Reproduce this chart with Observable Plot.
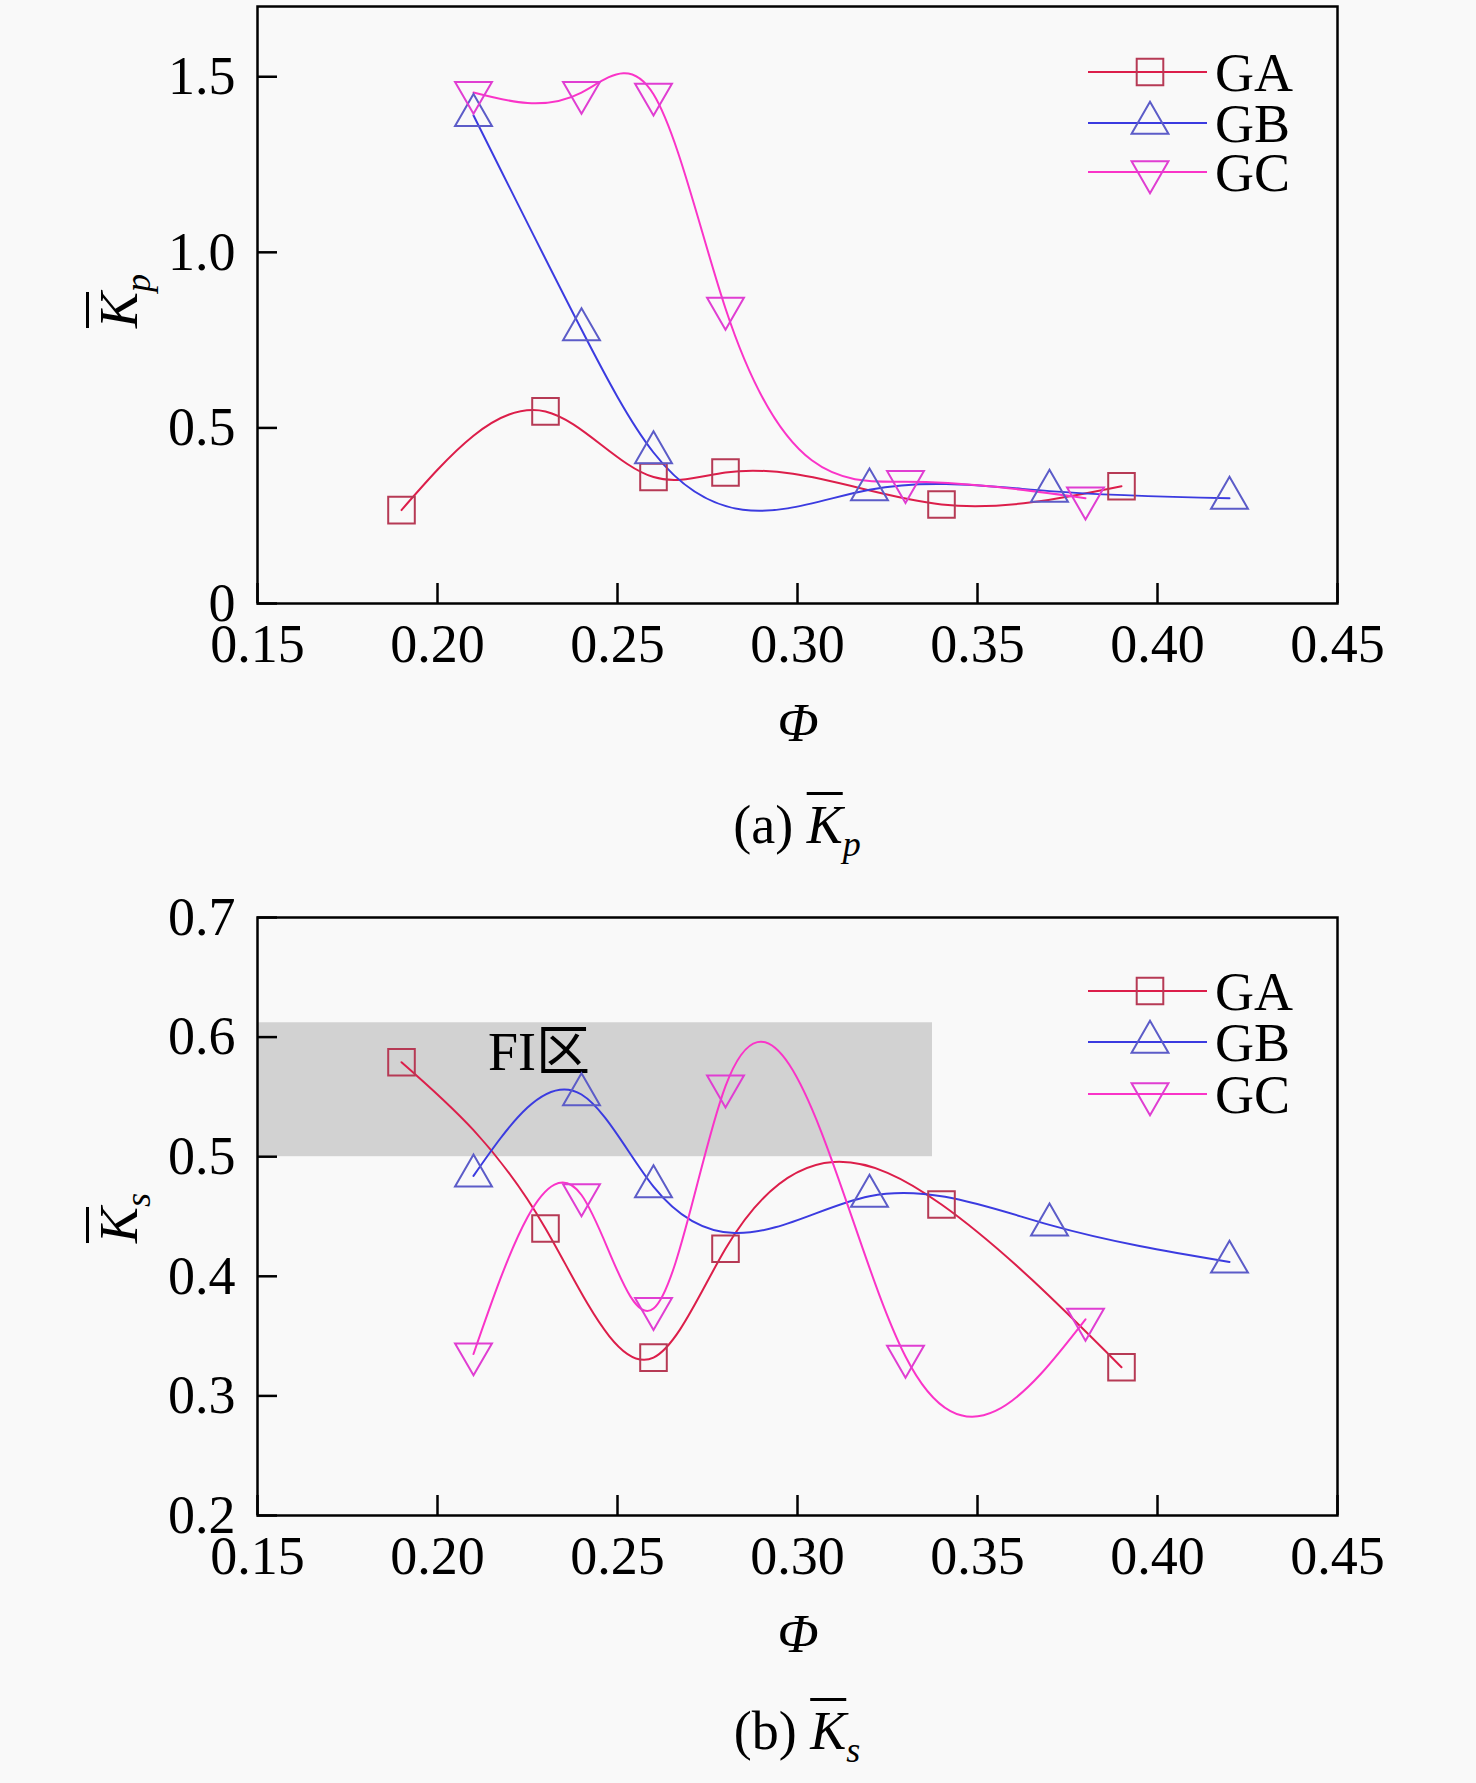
<!DOCTYPE html>
<html><head><meta charset="utf-8">
<script src="https://cdn.jsdelivr.net/npm/d3@7"></script>
<script src="https://cdn.jsdelivr.net/npm/@observablehq/plot@0.6"></script>
<style>
body{margin:0;background:#f9f9f9;}
#root{position:relative;width:1476px;height:1783px;font-family:"Liberation Serif","Times New Roman",serif;color:#000;}
.abs{position:absolute;transform:translate(-50%,-50%);white-space:nowrap;line-height:1;font-size:54px;}
.ylab{transform:translate(-50%,-50%) rotate(-90deg);}
.ol{text-decoration:overline;text-decoration-thickness:3px;}
sub{font-size:36px;vertical-align:-0.35em;line-height:0;}
svg{position:absolute;left:0;}
</style></head><body><div id="root"></div>
<script>
// ---- data ----
const series = ["GA", "GB", "GC"];
const xTicks = [0.15, 0.20, 0.25, 0.30, 0.35, 0.40, 0.45];
const kpTicks = [0, 0.5, 1.0, 1.5];
const kpTickLabels = ["0", "0.5", "1.0", "1.5"];
const ksTicks = [0.2, 0.3, 0.4, 0.5, 0.6, 0.7];
const ksTickLabels = ["0.2", "0.3", "0.4", "0.5", "0.6", "0.7"];

const phiGA = [0.19, 0.23, 0.26, 0.28, 0.34, 0.39];
const phiGB = [0.21, 0.24, 0.26, 0.32, 0.37, 0.42];
const phiGC = [0.21, 0.24, 0.26, 0.28, 0.33, 0.38];

const kpGA = [0.266, 0.547, 0.36, 0.373, 0.282, 0.334];
const kpGB = [1.39, 0.78, 0.43, 0.324, 0.32, 0.30];
const kpGC = [1.455, 1.455, 1.45, 0.84, 0.347, 0.30];

const ksGA = [0.579, 0.44, 0.332, 0.423, 0.46, 0.324];
const ksGB = [0.484, 0.552, 0.475, 0.467, 0.443, 0.412];
const ksGC = [0.335, 0.468, 0.373, 0.559, 0.333, 0.364];

const zoneX = [0.15, 0.3375];
const zoneY = [0.5, 0.612];
const zoneLabel = ["FI区"];
const zoneLabelX = [0.214];
const zoneLabelY = [0.587];

// ---- styles ----
const lineColors = {GA: "#dc1e4a", GB: "#3b3be0", GC: "#fa34c8"};
const markColors = {GA: "#b63a55", GB: "#5c5cc8", GC: "#e03ed2"};
const symbols = {GA: "square", GB: "triangle", GC: "triangle"};
const rotates = {GA: 0, GB: 0, GC: 180};
const radii = {GA: 15, GB: 13.7, GC: 13.7};
const FONT = "Liberation Serif, Times New Roman, serif";

// cubic spline in x (natural end conditions), drawn as Bézier segments
function curveSplineX(context) {
  let xs, ys;
  return {
    areaStart() {}, areaEnd() {},
    lineStart() { xs = []; ys = []; },
    point(x, y) { xs.push(+x); ys.push(+y); },
    lineEnd() {
      const n = xs.length;
      if (n === 0) return;
      context.moveTo(xs[0], ys[0]);
      if (n === 1) return;
      if (n === 2) { context.lineTo(xs[1], ys[1]); return; }
      const h = [], M = new Array(n).fill(0);
      for (let i = 0; i < n - 1; i++) h.push(xs[i + 1] - xs[i]);
      // tridiagonal solve for interior second derivatives
      const a = [], b = [], c = [], r = [];
      for (let i = 1; i < n - 1; i++) {
        a.push(h[i - 1]); b.push(2 * (h[i - 1] + h[i])); c.push(h[i]);
        r.push(6 * ((ys[i + 1] - ys[i]) / h[i] - (ys[i] - ys[i - 1]) / h[i - 1]));
      }
      const m = b.length;
      for (let i = 1; i < m; i++) {
        const w = a[i] / b[i - 1];
        b[i] -= w * c[i - 1]; r[i] -= w * r[i - 1];
      }
      const sol = new Array(m);
      sol[m - 1] = r[m - 1] / b[m - 1];
      for (let i = m - 2; i >= 0; i--) sol[i] = (r[i] - c[i] * sol[i + 1]) / b[i];
      for (let i = 0; i < m; i++) M[i + 1] = sol[i];
      for (let i = 0; i < n - 1; i++) {
        const hi = h[i], s = (ys[i + 1] - ys[i]) / hi;
        const d0 = s - hi * (2 * M[i] + M[i + 1]) / 6;
        const d1 = s + hi * (M[i] + 2 * M[i + 1]) / 6;
        context.bezierCurveTo(xs[i] + hi / 3, ys[i] + d0 * hi / 3,
                              xs[i + 1] - hi / 3, ys[i + 1] - d1 * hi / 3,
                              xs[i + 1], ys[i + 1]);
      }
    }
  };
}

function table(xs, ys) { return xs.map((x, i) => ({x, y: ys[i]})); }

function makeChart({height, marginTop, marginBottom, yDomain, yTicks, yLabels, data, zone, legendRows}) {
  const W = 1476, mL = 257, mR = 139;
  const plotW = W - mL - mR, plotH = height - marginTop - marginBottom;
  const marks = [];
  if (zone) {
    marks.push(Plot.rect([0], {x1: zoneX[0], x2: zoneX[1], y1: zoneY[0], y2: zoneY[1], fill: "#d2d2d2"}));
    marks.push(Plot.text(zoneLabel, {x: (d, i) => zoneLabelX[i], y: (d, i) => zoneLabelY[i], text: d => d,
      textAnchor: "start", fontSize: 54, fontFamily: FONT + ", Noto Sans CJK SC", fill: "#000"}));
  }
  marks.push(
    Plot.axisX(xTicks, {tickSize: 0, tickPadding: 20, tickFormat: d => d.toFixed(2), fontSize: 54, label: null}),
    Plot.axisY(yTicks, {tickSize: 0, tickPadding: 22, tickFormat: d => yLabels[yTicks.indexOf(d)], fontSize: 54, label: null}),
    Plot.tickX(xTicks, {x: d => d, insetTop: plotH - 20, stroke: "#000", strokeWidth: 2.5}),
    Plot.tickY(yTicks, {y: d => d, insetRight: plotW - 20, stroke: "#000", strokeWidth: 2.5})
  );
  series.forEach(s => {
    marks.push(Plot.line(data[s], {x: "x", y: "y", curve: curveSplineX, stroke: lineColors[s], strokeWidth: 2}));
  });
  series.forEach(s => {
    marks.push(Plot.dot(data[s], {x: "x", y: "y", symbol: symbols[s], rotate: rotates[s], r: radii[s],
      stroke: markColors[s], strokeWidth: 2, fill: "none"}));
  });
  marks.push(Plot.frame({stroke: "#000", strokeWidth: 2.5}));
  const svg = Plot.plot({
    width: W, height, marginLeft: mL, marginRight: mR, marginTop, marginBottom,
    x: {domain: [0.15, 0.45]}, y: {domain: yDomain},
    style: {background: "transparent", fontFamily: FONT, fontSize: "54px", color: "#000"},
    marks
  });
  // legend
  const g = d3.select(svg).append("g").attr("text-anchor", "start");
  series.forEach((s, i) => {
    const y = legendRows[i];
    g.append("line").attr("x1", 1088).attr("x2", 1207).attr("y1", y).attr("y2", y)
      .attr("stroke", lineColors[s]).attr("stroke-width", 2);
    g.append("path").attr("d", d3.symbol(symbols[s] === "square" ? d3.symbolSquare : d3.symbolTriangle, Math.PI * radii[s] ** 2)())
      .attr("transform", `translate(1150,${y}) rotate(${rotates[s]})`)
      .attr("fill", "none").attr("stroke", markColors[s]).attr("stroke-width", 2);
    g.append("text").attr("x", 1215).attr("y", y).attr("dy", "0.35em").attr("font-size", 54)
      .attr("text-anchor", "start").attr("font-family", FONT).attr("fill", "#000").text(s);
  });
  return svg;
}

const root = document.getElementById("root");

const svg1 = makeChart({
  height: 700, marginTop: 6, marginBottom: 97, yDomain: [0, 1.7], yTicks: kpTicks, yLabels: kpTickLabels,
  data: {GA: table(phiGA, kpGA), GB: table(phiGB, kpGB), GC: table(phiGC, kpGC)},
  zone: false, legendRows: [72, 123, 172]
});
svg1.style.top = "0px";
root.appendChild(svg1);

const svg2 = makeChart({
  height: 720, marginTop: 37, marginBottom: 85, yDomain: [0.2, 0.7], yTicks: ksTicks, yLabels: ksTickLabels,
  data: {GA: table(phiGA, ksGA), GB: table(phiGB, ksGB), GC: table(phiGC, ksGC)},
  zone: true, legendRows: [111, 162, 214]
});
svg2.style.top = "880px";
root.appendChild(svg2);

function addText(html, x, y, cls) {
  const d = document.createElement("div");
  d.className = "abs" + (cls ? " " + cls : "");
  d.style.left = x + "px"; d.style.top = y + "px";
  d.innerHTML = html;
  root.appendChild(d);
}
const Kp = '<i><span class="ol">K</span><sub>p</sub></i>';
const Ks = '<i><span class="ol">K</span><sub>s</sub></i>';
addText(Kp, 119, 301, "ylab");
addText(Ks, 119, 1218, "ylab");
addText('<i>Φ</i>', 798, 723);
addText('<i>Φ</i>', 798, 1634);
addText('(a) ' + Kp, 797, 825);
addText('(b) ' + Ks, 797, 1731);
</script></body></html>
